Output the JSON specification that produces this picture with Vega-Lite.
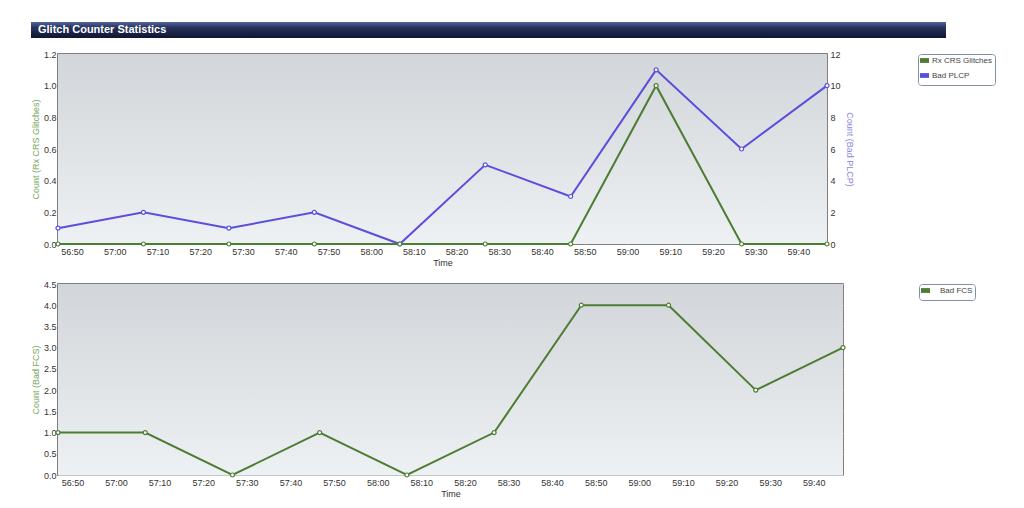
{
  "$schema": "https://vega.github.io/schema/vega-lite/v6.json",
  "padding": {"left": 30, "top": 22, "right": 0, "bottom": 0},
  "background": "white",
  "spacing": 11,
  "config": {
    "font": "Liberation Sans",
    "axis": {
      "labelFontSize": 9,
      "labelColor": "#333333",
      "titleFontSize": 9,
      "titleFontWeight": "normal",
      "titleColor": "#333333",
      "gridColor": "#c3c7cb",
      "gridWidth": 1,
      "ticks": false,
      "domain": false,
      "labelPadding": 3,
      "zindex": 1
    },
    "legend": {
      "labelFontSize": 8,
      "labelColor": "#444444"
    }
  },
  "resolve": {"scale": {"color": "independent", "x": "independent", "y": "independent"}, "legend": {"color": "independent"}},
  "vconcat": [
    {
      "width": 888,
      "height": 16,
      "view": {"stroke": null},
      "data": {"values": [{"label": "Glitch Counter Statistics", "start": -0.0304, "end": 1}]},
      "encoding": {
        "x": {"field": "start", "type": "quantitative", "scale": {"domain": [0, 1]}, "axis": null}
      },
      "layer": [
        {
          "mark": {"type": "rect", "color": {"gradient": "linear", "x1": 0, "y1": 0, "x2": 0, "y2": 1,
            "stops": [{"offset": 0, "color": "#55659a"}, {"offset": 0.35, "color": "#26325e"}, {"offset": 1, "color": "#0e1530"}]}},
          "encoding": {"x2": {"field": "end"}}
        },
        {
          "mark": {"type": "text", "align": "left", "baseline": "middle", "color": "white", "fontWeight": "bold", "fontSize": 11, "dx": 7},
          "encoding": {"text": {"field": "label"}}
        }
      ]
    },
    {
      "width": 769,
      "height": 190,
      "view": {"fill": "#e0e3e6", "stroke": "#555555", "strokeWidth": 1.5},
      "data": {"values": [
        {"t": "2020-01-01T12:56:46.700", "series": "Rx CRS Glitches", "value": 0},
        {"t": "2020-01-01T12:57:06.700", "series": "Rx CRS Glitches", "value": 0},
        {"t": "2020-01-01T12:57:26.700", "series": "Rx CRS Glitches", "value": 0},
        {"t": "2020-01-01T12:57:46.700", "series": "Rx CRS Glitches", "value": 0},
        {"t": "2020-01-01T12:58:06.700", "series": "Rx CRS Glitches", "value": 0},
        {"t": "2020-01-01T12:58:26.700", "series": "Rx CRS Glitches", "value": 0},
        {"t": "2020-01-01T12:58:46.700", "series": "Rx CRS Glitches", "value": 0},
        {"t": "2020-01-01T12:59:06.700", "series": "Rx CRS Glitches", "value": 1},
        {"t": "2020-01-01T12:59:26.700", "series": "Rx CRS Glitches", "value": 0},
        {"t": "2020-01-01T12:59:46.700", "series": "Rx CRS Glitches", "value": 0},
        {"t": "2020-01-01T12:56:46.700", "series": "Bad PLCP", "value": 1},
        {"t": "2020-01-01T12:57:06.700", "series": "Bad PLCP", "value": 2},
        {"t": "2020-01-01T12:57:26.700", "series": "Bad PLCP", "value": 1},
        {"t": "2020-01-01T12:57:46.700", "series": "Bad PLCP", "value": 2},
        {"t": "2020-01-01T12:58:06.700", "series": "Bad PLCP", "value": 0},
        {"t": "2020-01-01T12:58:26.700", "series": "Bad PLCP", "value": 5},
        {"t": "2020-01-01T12:58:46.700", "series": "Bad PLCP", "value": 3},
        {"t": "2020-01-01T12:59:06.700", "series": "Bad PLCP", "value": 11},
        {"t": "2020-01-01T12:59:26.700", "series": "Bad PLCP", "value": 6},
        {"t": "2020-01-01T12:59:46.700", "series": "Bad PLCP", "value": 10}
      ]},
      "layer": [
        {
          "mark": {"type": "rect", "color": {"gradient": "linear", "x1": 0, "y1": 0, "x2": 0, "y2": 1,
            "stops": [{"offset": 0, "color": "#d2d5d9"}, {"offset": 1, "color": "#eef1f3"}]}}
        },
        {
          "transform": [{"filter": "datum.series === 'Bad PLCP'"}],
          "mark": {"type": "line", "strokeWidth": 2, "point": {"filled": false, "fill": "white", "size": 16, "strokeWidth": 1.2}},
          "encoding": {
            "x": {"field": "t", "type": "temporal", "title": "Time",
              "axis": {"format": "%M:%S", "labelFlush": false, "labelOverlap": false, "titlePadding": 2,
                "values": [
                  {"year": 2020, "month": 1, "date": 1, "hours": 12, "minutes": 56, "seconds": 50},
                  {"year": 2020, "month": 1, "date": 1, "hours": 12, "minutes": 57, "seconds": 0},
                  {"year": 2020, "month": 1, "date": 1, "hours": 12, "minutes": 57, "seconds": 10},
                  {"year": 2020, "month": 1, "date": 1, "hours": 12, "minutes": 57, "seconds": 20},
                  {"year": 2020, "month": 1, "date": 1, "hours": 12, "minutes": 57, "seconds": 30},
                  {"year": 2020, "month": 1, "date": 1, "hours": 12, "minutes": 57, "seconds": 40},
                  {"year": 2020, "month": 1, "date": 1, "hours": 12, "minutes": 57, "seconds": 50},
                  {"year": 2020, "month": 1, "date": 1, "hours": 12, "minutes": 58, "seconds": 0},
                  {"year": 2020, "month": 1, "date": 1, "hours": 12, "minutes": 58, "seconds": 10},
                  {"year": 2020, "month": 1, "date": 1, "hours": 12, "minutes": 58, "seconds": 20},
                  {"year": 2020, "month": 1, "date": 1, "hours": 12, "minutes": 58, "seconds": 30},
                  {"year": 2020, "month": 1, "date": 1, "hours": 12, "minutes": 58, "seconds": 40},
                  {"year": 2020, "month": 1, "date": 1, "hours": 12, "minutes": 58, "seconds": 50},
                  {"year": 2020, "month": 1, "date": 1, "hours": 12, "minutes": 59, "seconds": 0},
                  {"year": 2020, "month": 1, "date": 1, "hours": 12, "minutes": 59, "seconds": 10},
                  {"year": 2020, "month": 1, "date": 1, "hours": 12, "minutes": 59, "seconds": 20},
                  {"year": 2020, "month": 1, "date": 1, "hours": 12, "minutes": 59, "seconds": 30},
                  {"year": 2020, "month": 1, "date": 1, "hours": 12, "minutes": 59, "seconds": 40}
                ]}},
            "y": {"field": "value", "type": "quantitative", "title": "Count (Bad PLCP)",
              "scale": {"domain": [0, 12], "nice": false},
              "axis": {"orient": "right", "values": [0, 2, 4, 6, 8, 10, 12], "grid": false, "titleColor": "#8c86e0", "titlePadding": 4}},
            "color": {"field": "series", "type": "nominal",
              "scale": {"domain": ["Rx CRS Glitches", "Bad PLCP"], "range": ["#4b7d32", "#5a4fdc"]},
              "legend": {"orient": "right", "offset": 64, "title": null,
                "symbolType": "M-1,-0.3H1V0.3H-1Z", "symbolSize": 36, "symbolStrokeWidth": 3,
                "fillColor": "white", "strokeColor": "#8090a8", "cornerRadius": 3, "padding": 2, "rowPadding": 0, "labelOffset": 3}}
          }
        },
        {
          "transform": [{"filter": "datum.series === 'Rx CRS Glitches'"}],
          "mark": {"type": "line", "strokeWidth": 2, "point": {"filled": false, "fill": "white", "size": 16, "strokeWidth": 1.2}},
          "encoding": {
            "x": {"field": "t", "type": "temporal"},
            "y": {"field": "value", "type": "quantitative", "title": "Count (Rx CRS Glitches)",
              "scale": {"domain": [0, 1.2], "nice": false},
              "axis": {"orient": "left", "values": [0, 0.2, 0.4, 0.6, 0.8, 1.0, 1.2], "format": ".1f", "titleColor": "#76a65a", "titlePadding": 3, "labelPadding": 2}},
            "color": {"field": "series", "type": "nominal"}
          }
        }
      ],
      "resolve": {"scale": {"y": "independent"}}
    },
    {
      "width": 785,
      "height": 191,
      "view": {"fill": "#e0e3e6", "stroke": "#555555", "strokeWidth": 1.5},
      "data": {"values": [
        {"t": "2020-01-01T12:56:46.700", "series": "Bad FCS", "value": 1},
        {"t": "2020-01-01T12:57:06.700", "series": "Bad FCS", "value": 1},
        {"t": "2020-01-01T12:57:26.700", "series": "Bad FCS", "value": 0},
        {"t": "2020-01-01T12:57:46.700", "series": "Bad FCS", "value": 1},
        {"t": "2020-01-01T12:58:06.700", "series": "Bad FCS", "value": 0},
        {"t": "2020-01-01T12:58:26.700", "series": "Bad FCS", "value": 1},
        {"t": "2020-01-01T12:58:46.700", "series": "Bad FCS", "value": 4},
        {"t": "2020-01-01T12:59:06.700", "series": "Bad FCS", "value": 4},
        {"t": "2020-01-01T12:59:26.700", "series": "Bad FCS", "value": 2},
        {"t": "2020-01-01T12:59:46.700", "series": "Bad FCS", "value": 3}
      ]},
      "layer": [
        {
          "mark": {"type": "rect", "color": {"gradient": "linear", "x1": 0, "y1": 0, "x2": 0, "y2": 1,
            "stops": [{"offset": 0, "color": "#d2d5d9"}, {"offset": 1, "color": "#eef1f3"}]}}
        },
        {
          "mark": {"type": "line", "strokeWidth": 2, "point": {"filled": false, "fill": "white", "size": 16, "strokeWidth": 1.2}},
          "encoding": {
            "x": {"field": "t", "type": "temporal", "title": "Time",
              "axis": {"format": "%M:%S", "labelFlush": false, "labelOverlap": false, "titlePadding": 2,
                "values": [
                  {"year": 2020, "month": 1, "date": 1, "hours": 12, "minutes": 56, "seconds": 50},
                  {"year": 2020, "month": 1, "date": 1, "hours": 12, "minutes": 57, "seconds": 0},
                  {"year": 2020, "month": 1, "date": 1, "hours": 12, "minutes": 57, "seconds": 10},
                  {"year": 2020, "month": 1, "date": 1, "hours": 12, "minutes": 57, "seconds": 20},
                  {"year": 2020, "month": 1, "date": 1, "hours": 12, "minutes": 57, "seconds": 30},
                  {"year": 2020, "month": 1, "date": 1, "hours": 12, "minutes": 57, "seconds": 40},
                  {"year": 2020, "month": 1, "date": 1, "hours": 12, "minutes": 57, "seconds": 50},
                  {"year": 2020, "month": 1, "date": 1, "hours": 12, "minutes": 58, "seconds": 0},
                  {"year": 2020, "month": 1, "date": 1, "hours": 12, "minutes": 58, "seconds": 10},
                  {"year": 2020, "month": 1, "date": 1, "hours": 12, "minutes": 58, "seconds": 20},
                  {"year": 2020, "month": 1, "date": 1, "hours": 12, "minutes": 58, "seconds": 30},
                  {"year": 2020, "month": 1, "date": 1, "hours": 12, "minutes": 58, "seconds": 40},
                  {"year": 2020, "month": 1, "date": 1, "hours": 12, "minutes": 58, "seconds": 50},
                  {"year": 2020, "month": 1, "date": 1, "hours": 12, "minutes": 59, "seconds": 0},
                  {"year": 2020, "month": 1, "date": 1, "hours": 12, "minutes": 59, "seconds": 10},
                  {"year": 2020, "month": 1, "date": 1, "hours": 12, "minutes": 59, "seconds": 20},
                  {"year": 2020, "month": 1, "date": 1, "hours": 12, "minutes": 59, "seconds": 30},
                  {"year": 2020, "month": 1, "date": 1, "hours": 12, "minutes": 59, "seconds": 40}
                ]}},
            "y": {"field": "value", "type": "quantitative", "title": "Count (Bad FCS)",
              "scale": {"domain": [0, 4.5], "nice": false},
              "axis": {"values": [0, 0.5, 1, 1.5, 2, 2.5, 3, 3.5, 4, 4.5], "format": ".1f", "titleColor": "#76a65a", "titlePadding": 3, "labelPadding": 2}},
            "color": {"field": "series", "type": "nominal",
              "scale": {"domain": ["Bad FCS"], "range": ["#4b7d32"]},
              "legend": {"orient": "right", "offset": 72, "title": null,
                "symbolType": "M-1,-0.3H1V0.3H-1Z", "symbolSize": 36, "symbolStrokeWidth": 3,
                "fillColor": "white", "strokeColor": "#8090a8", "cornerRadius": 3, "padding": 2, "rowPadding": 0, "labelOffset": 10}}
          }
        }
      ]
    }
  ]
}
